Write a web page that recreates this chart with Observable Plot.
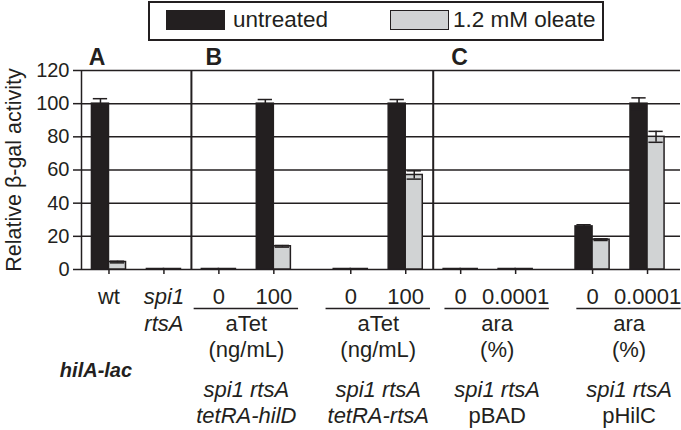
<!DOCTYPE html>
<html>
<head>
<meta charset="utf-8">
<script src="https://cdn.jsdelivr.net/npm/d3@7"></script>
<script src="https://cdn.jsdelivr.net/npm/@observablehq/plot@0.6"></script>
<style>
  html, body { margin: 0; padding: 0; background: #fff; }
  #wrap { position: relative; width: 681px; height: 430px; font-family: "Liberation Sans", Arial, sans-serif; color: #231f20; }
  #legend { position: relative; height: 42px; }
  #legendBox { position: absolute; left: 148px; top: 1px; width: 452px; height: 36px; border: 2px solid #231f20; box-sizing: content-box; }
  .sw { position: absolute; top: 7px; width: 57px; height: 18px; border: 1.5px solid #231f20; }
  .lt { position: absolute; top: 3px; font-size: 22.5px; line-height: 28px; white-space: nowrap; }
  svg { overflow: visible; }
</style>
</head>
<body>
<div id="wrap">
  <div id="legend">
    <div id="legendBox">
      <div class="sw" id="sw0"></div><div class="lt" id="lt0"></div>
      <div class="sw" id="sw1"></div><div class="lt" id="lt1"></div>
    </div>
  </div>
  <div id="chart"></div>
</div>
<script>
// ---- data ----
const seriesNames = ["untreated", "1.2 mM oleate"];
const seriesColors = ["#231f20", "#d1d3d4"];

const catPanel = ["A", "A", "B", "B", "B", "B", "C", "C", "C", "C"];
const catGroup = [0, 0, 1, 1, 2, 2, 3, 3, 4, 4];
const catRow1 = ["wt", "spi1", "0", "100", "0", "100", "0", "0.0001", "0", "0.0001"];
const catRow1Italic = [false, true, false, false, false, false, false, false, false, false];
const catRow2 = ["", "rtsA", "", "", "", "", "", "", "", ""];

const untreated    = [100, 0.3, 0.3, 100, 0.3, 100, 0.3, 0.3, 26, 100];
const untreatedErr = [3,   0,   0,   2.5, 0,   2.5, 0,   0,   1,  3.5];
const oleate       = [4.5, 0.3, 0.3, 14,  0.3, 57,  0.3, 0.3, 18, 80];
const oleateErr    = [0.5, 0,   0,   0.5, 0,   2.5, 0,   0,   0.5, 3.3];

const groupIds = [1, 2, 3, 4];
const groupInducer = ["aTet", "aTet", "ara", "ara"];
const groupUnit = ["(ng/mL)", "(ng/mL)", "(%)", "(%)"];
const groupStrain1 = ["spi1 rtsA", "spi1 rtsA", "spi1 rtsA", "spi1 rtsA"];
const groupStrain2 = ["tetRA-hilD", "tetRA-rtsA", "pBAD", "pHilC"];
const groupStrain2Italic = [true, true, false, false];

const panelNames = ["A", "B", "C"];
const yTicks = [0, 20, 40, 60, 80, 100, 120];
const yLabel = "Relative β-gal activity";
const reporter = "hilA-lac";

// ---- legend ----
document.getElementById("sw0").style.cssText += `left:16px;background:${seriesColors[0]}`;
document.getElementById("lt0").style.left = "83px";
document.getElementById("lt0").textContent = seriesNames[0];
document.getElementById("sw1").style.cssText += `left:240px;background:${seriesColors[1]}`;
document.getElementById("lt1").style.left = "303px";
document.getElementById("lt1").textContent = seriesNames[1];

// ---- layout (computed) ----
const idx = d3.range(catPanel.length);
const subGap = 0.4;
const pos = [];
let off = 0;
idx.forEach(i => {
  if (i > 0 && catPanel[i] === catPanel[i - 1] && catGroup[i] !== catGroup[i - 1]) off += subGap;
  pos.push(i + off);
});
const dividers = idx.filter(i => i > 0 && catPanel[i] !== catPanel[i - 1]).map(i => (pos[i] + pos[i - 1]) / 2);
const barW = 0.31;
const xDomain = [-0.5, pos[pos.length - 1] + 0.6];

const rows = [];
idx.forEach(i => {
  rows.push({i, s: 0, x1: pos[i] - barW, x2: pos[i], v: untreated[i], e: untreatedErr[i]});
  rows.push({i, s: 1, x1: pos[i], x2: pos[i] + barW, v: oleate[i], e: oleateErr[i]});
});
const errRows = rows.filter(r => r.e > 0);
const capW = 0.13;

const groupInfo = groupIds.map((g, k) => {
  const members = idx.filter(i => catGroup[i] === g);
  return {k, panel: catPanel[members[0]], first: pos[members[0]], last: pos[members[members.length - 1]],
          mid: d3.mean(members, i => pos[i])};
});

const FS = 22;
const font = "'Liberation Sans', Arial, sans-serif";
const ink = "#231f20";

const groupTextMarks = [];
[["B", 0], ["C", 9]].forEach(([p, dx]) => {
  const gs = groupInfo.filter(g => g.panel === p);
  groupTextMarks.push(
    Plot.ruleY(gs, {y: 0, x1: g => g.first - 0.45, x2: g => g.last + 0.45, dy: 39, dx, stroke: ink, strokeWidth: 1.5}),
    Plot.text(gs, {x: g => g.mid, y: 0, text: g => groupInducer[g.k], dy: 54.5, dx, fontSize: FS, lineAnchor: "middle"}),
    Plot.text(gs, {x: g => g.mid, y: 0, text: g => groupUnit[g.k], dy: 80.5, dx, fontSize: FS, lineAnchor: "middle"}),
    Plot.text(gs, {x: g => g.mid, y: 0, text: g => groupStrain1[g.k], dy: 120.5, dx, fontSize: FS, fontStyle: "italic", lineAnchor: "middle"}),
    Plot.text(gs.filter(g => groupStrain2Italic[g.k]), {x: g => g.mid, y: 0, text: g => groupStrain2[g.k], dy: 146.5, dx, fontSize: FS, fontStyle: "italic", lineAnchor: "middle"}),
    Plot.text(gs.filter(g => !groupStrain2Italic[g.k]), {x: g => g.mid, y: 0, text: g => groupStrain2[g.k], dy: 146.5, dx, fontSize: FS, lineAnchor: "middle"})
  );
});

const panelFirst = panelNames.map(p => pos[catPanel.indexOf(p)]);
const panelDx = [-12, -5, -1];
const panelMarks = panelNames.map((p, k) =>
  Plot.text([p], {x: panelFirst[k], y: 120, dx: panelDx[k], dy: -13, fontSize: 23, fontWeight: "bold", lineAnchor: "middle"})
);

const chart = Plot.plot({
  width: 681,
  height: 388,
  marginTop: 28,
  marginLeft: 81,
  marginRight: 1,
  marginBottom: 161,
  x: {type: "linear", domain: xDomain, axis: null},
  y: {domain: [0, 120], axis: null},
  style: {fontFamily: font, fontSize: FS + "px", color: ink, background: "white", overflow: "visible"},
  marks: [
    Plot.ruleY(yTicks, {stroke: ink, strokeWidth: 1.5}),
    Plot.ruleX([xDomain[0]], {stroke: ink, strokeWidth: 1.5}),
    Plot.ruleX(dividers, {stroke: ink, strokeWidth: 2}),
    Plot.axisY(yTicks, {tickSize: 8, tickPadding: 4, fontSize: 20, label: null, strokeWidth: 1.5}),
    Plot.axisX(pos, {tickSize: 5, tickFormat: () => "", strokeWidth: 1.5, label: null}),
    Plot.rectY(rows, {x1: "x1", x2: "x2", y1: 0, y2: "v", fill: r => seriesColors[r.s], stroke: ink, strokeWidth: 1.5}),
    Plot.ruleX(errRows, {x: r => (r.x1 + r.x2) / 2, y1: r => r.v - r.e, y2: r => r.v + r.e, stroke: ink, strokeWidth: 1.5}),
    Plot.ruleY(errRows, {y: r => r.v + r.e, x1: r => (r.x1 + r.x2) / 2 - capW, x2: r => (r.x1 + r.x2) / 2 + capW, stroke: ink, strokeWidth: 1.5}),
    Plot.ruleY(errRows, {y: r => r.v - r.e, x1: r => (r.x1 + r.x2) / 2 - capW, x2: r => (r.x1 + r.x2) / 2 + capW, stroke: ink, strokeWidth: 1.5}),
    Plot.text(idx.filter(i => !catRow1Italic[i]), {x: i => pos[i], y: 0, text: i => catRow1[i], dy: 27.5, fontSize: FS, lineAnchor: "middle"}),
    Plot.text(idx.filter(i => catRow1Italic[i]), {x: i => pos[i], y: 0, text: i => catRow1[i], dy: 27.5, fontSize: FS, fontStyle: "italic", lineAnchor: "middle"}),
    Plot.text(idx.filter(i => catRow2[i]), {x: i => pos[i], y: 0, text: i => catRow2[i], dy: 54.5, fontSize: FS, fontStyle: "italic", lineAnchor: "middle"}),
    ...groupTextMarks,
    Plot.text([reporter], {x: pos[0], y: 0, dx: -13, dy: 101.5, fontSize: 20, fontWeight: "bold", fontStyle: "italic", lineAnchor: "middle"}),
    ...panelMarks,
    Plot.text([yLabel], {frameAnchor: "left", rotate: -90, dx: -67, fontSize: 21.5, textAnchor: "middle", lineAnchor: "middle"})
  ]
});
document.getElementById("chart").appendChild(chart);
</script>
</body>
</html>
